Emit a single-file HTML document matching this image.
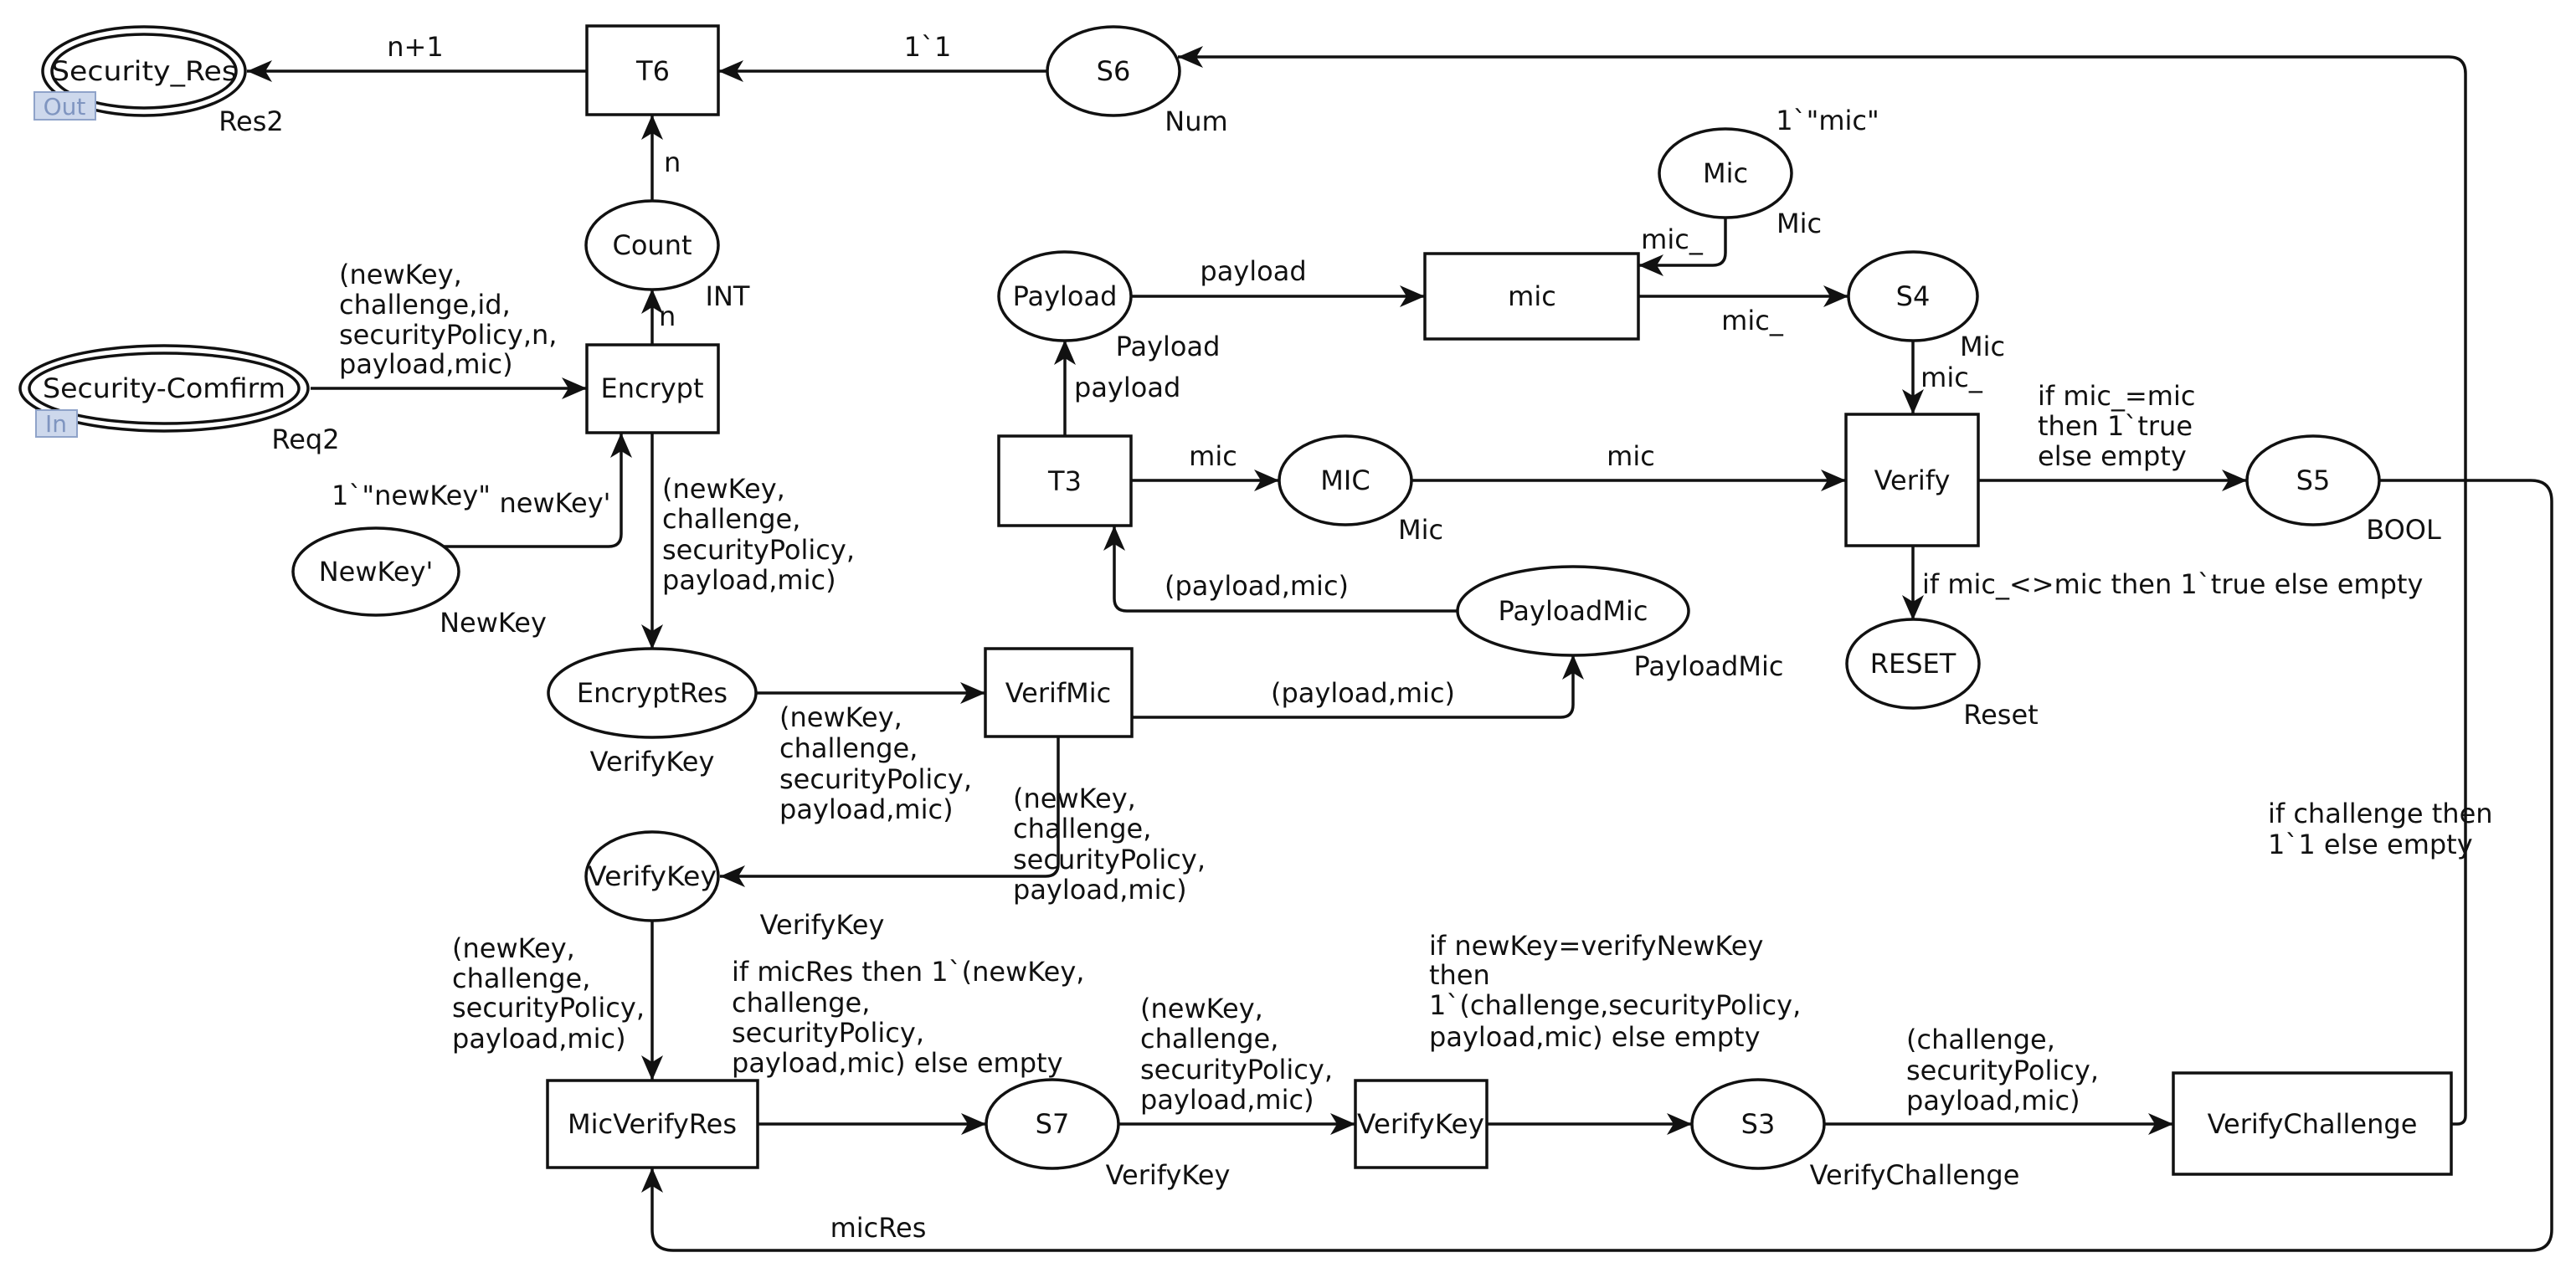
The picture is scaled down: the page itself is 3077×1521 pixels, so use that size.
<!DOCTYPE html>
<html><head><meta charset="utf-8"><style>
html,body{margin:0;padding:0;background:#fff;}
svg{display:block;}
text{font-family:"DejaVu Sans","Liberation Sans",sans-serif;font-size:32px;fill:#111;}
.m{text-anchor:middle;}
</style></head><body>
<svg width="3077" height="1521" viewBox="0 0 3077 1521" xmlns="http://www.w3.org/2000/svg">
<defs>
<marker id="a" markerUnits="userSpaceOnUse" markerWidth="32" markerHeight="26" refX="30" refY="13" orient="auto">
<path d="M0,0 L30,13 L0,26 L8,13 z" fill="#111"/>
</marker>
</defs>
<g fill="none" stroke="#111" stroke-width="3.5">
<ellipse cx="172" cy="85" rx="121" ry="53"/><ellipse cx="172" cy="85" rx="110" ry="44"/>
<ellipse cx="196" cy="464" rx="172" ry="51"/><ellipse cx="196" cy="464" rx="161" ry="42"/>
<ellipse cx="1330" cy="85" rx="79" ry="53"/>
<ellipse cx="779" cy="293" rx="79" ry="53"/>
<ellipse cx="449" cy="683" rx="99" ry="52"/>
<ellipse cx="779" cy="828" rx="124" ry="53"/>
<ellipse cx="779" cy="1047" rx="79" ry="53"/>
<ellipse cx="1257" cy="1343" rx="79" ry="53"/>
<ellipse cx="2100" cy="1343" rx="79" ry="53"/>
<ellipse cx="1272" cy="354" rx="79" ry="53"/>
<ellipse cx="1607" cy="574" rx="79" ry="53"/>
<ellipse cx="1879" cy="730" rx="138" ry="53"/>
<ellipse cx="2061" cy="207" rx="79" ry="53"/>
<ellipse cx="2285" cy="354" rx="77" ry="53"/>
<ellipse cx="2763" cy="574" rx="79" ry="53"/>
<ellipse cx="2285" cy="793" rx="79" ry="53"/>
<rect x="701" y="31" width="157" height="106"/>
<rect x="701" y="412" width="157" height="105"/>
<rect x="1177" y="775" width="175" height="105"/>
<rect x="654" y="1291" width="251" height="104"/>
<rect x="1619" y="1291" width="157" height="104"/>
<rect x="2596" y="1282" width="332" height="121"/>
<rect x="1193" y="521" width="158" height="107"/>
<rect x="1702" y="303" width="255" height="102"/>
<rect x="2205" y="495" width="158" height="157"/>
<g marker-end="url(#a)">
<path d="M701,85 L295,85"/>
<path d="M1251,85 L858,85"/>
<path d="M779,241 L779,137"/>
<path d="M779,412 L779,345"/>
<path d="M371,464 L701,464"/>
<path d="M530,653 L727,653 Q742,653 742,638 L742,517"/>
<path d="M779,517 L779,776"/>
<path d="M903,828 L1177,828"/>
<path d="M1352,857 L1864,857 Q1879,857 1879,842 L1879,782"/>
<path d="M1264,880 L1264,1032 Q1264,1047 1249,1047 L860,1047"/>
<path d="M779,1099 L779,1291"/>
<path d="M905,1343 L1178,1343"/>
<path d="M1336,1343 L1619,1343"/>
<path d="M1776,1343 L2021,1343"/>
<path d="M2179,1343 L2596,1343"/>
<path d="M2928,1343 L2935,1343 Q2945,1343 2945,1333 L2945,88 Q2945,68 2925,68 L1407,68"/>
<path d="M2842,574 L3023,574 Q3048,574 3048,599 L3048,1469 Q3048,1494 3023,1494 L804,1494 Q779,1494 779,1469 L779,1395"/>
<path d="M1351,354 L1702,354"/>
<path d="M1272,521 L1272,406"/>
<path d="M1351,574 L1528,574"/>
<path d="M1686,574 L2205,574"/>
<path d="M1741,730 L1346,730 Q1331,730 1331,715 L1331,628"/>
<path d="M2061,259 L2061,302 Q2061,317 2046,317 L1957,317"/>
<path d="M1957,354 L2208,354"/>
<path d="M2285,406 L2285,495"/>
<path d="M2363,574 L2684,574"/>
<path d="M2285,652 L2285,741"/>
</g>
</g>
<rect x="41" y="110" width="73" height="33" fill="#cdd8ec" stroke="#8fa3c9" stroke-width="2"/>
<text x="77" y="137" class="m" style="fill:#7f95c0;font-size:28px">Out</text>
<rect x="43" y="490" width="49" height="32" fill="#cdd8ec" stroke="#8fa3c9" stroke-width="2"/>
<text x="67" y="516" class="m" style="fill:#7f95c0;font-size:28px">In</text>
<text x="172" y="96" class="m" textLength="222" lengthAdjust="spacingAndGlyphs">Security_Res</text>
<text x="196" y="475" class="m" textLength="290" lengthAdjust="spacingAndGlyphs">Security-Comfirm</text>
<text x="780" y="96" class="m">T6</text>
<text x="1330" y="96" class="m">S6</text>
<text x="779" y="304" class="m">Count</text>
<text x="779" y="475" class="m">Encrypt</text>
<text x="449" y="694" class="m">NewKey'</text>
<text x="779" y="839" class="m">EncryptRes</text>
<text x="1264" y="839" class="m">VerifMic</text>
<text x="779" y="1058" class="m" textLength="154" lengthAdjust="spacingAndGlyphs">VerifyKey</text>
<text x="779" y="1354" class="m">MicVerifyRes</text>
<text x="1257" y="1354" class="m">S7</text>
<text x="1697" y="1354" class="m" textLength="152" lengthAdjust="spacingAndGlyphs">VerifyKey</text>
<text x="2100" y="1354" class="m">S3</text>
<text x="2762" y="1354" class="m">VerifyChallenge</text>
<text x="1272" y="365" class="m">Payload</text>
<text x="1272" y="586" class="m">T3</text>
<text x="1607" y="585" class="m">MIC</text>
<text x="1879" y="741" class="m">PayloadMic</text>
<text x="1830" y="365" class="m">mic</text>
<text x="2061" y="218" class="m">Mic</text>
<text x="2285" y="365" class="m">S4</text>
<text x="2284" y="585" class="m">Verify</text>
<text x="2763" y="585" class="m">S5</text>
<text x="2285" y="804" class="m">RESET</text>
<text x="300" y="156" class="m">Res2</text>
<text x="1429" y="156" class="m">Num</text>
<text x="869" y="365" class="m">INT</text>
<text x="365" y="536" class="m">Req2</text>
<text x="589" y="755" class="m">NewKey</text>
<text x="779" y="921" class="m">VerifyKey</text>
<text x="982" y="1116" class="m">VerifyKey</text>
<text x="1395" y="1415" class="m">VerifyKey</text>
<text x="2287" y="1415" class="m">VerifyChallenge</text>
<text x="1395" y="425" class="m">Payload</text>
<text x="1697" y="644" class="m">Mic</text>
<text x="2041" y="807" class="m">PayloadMic</text>
<text x="2149" y="278" class="m">Mic</text>
<text x="2183" y="155" class="m">1`"mic"</text>
<text x="2368" y="425" class="m">Mic</text>
<text x="2871" y="644" class="m">BOOL</text>
<text x="2390" y="865" class="m">Reset</text>
<text x="496" y="67" class="m">n+1</text>
<text x="1108" y="67" class="m">1`1</text>
<text x="793" y="205">n</text>
<text x="787" y="389">n</text>
<text x="405" y="339">(newKey,</text>
<text x="405" y="375">challenge,id,</text>
<text x="405" y="411">securityPolicy,n,</text>
<text x="405" y="446">payload,mic)</text>
<text x="491" y="603" class="m">1`"newKey"</text>
<text x="663" y="612" class="m">newKey'</text>
<text x="791" y="595">(newKey,</text>
<text x="791" y="631">challenge,</text>
<text x="791" y="668">securityPolicy,</text>
<text x="791" y="704">payload,mic)</text>
<text x="931" y="868">(newKey,</text>
<text x="931" y="905">challenge,</text>
<text x="931" y="942">securityPolicy,</text>
<text x="931" y="978">payload,mic)</text>
<text x="1628" y="839" class="m">(payload,mic)</text>
<text x="1210" y="965">(newKey,</text>
<text x="1210" y="1001">challenge,</text>
<text x="1210" y="1038">securityPolicy,</text>
<text x="1210" y="1074">payload,mic)</text>
<text x="540" y="1144">(newKey,</text>
<text x="540" y="1180">challenge,</text>
<text x="540" y="1215">securityPolicy,</text>
<text x="540" y="1252">payload,mic)</text>
<text x="874" y="1172">if micRes then 1`(newKey,</text>
<text x="874" y="1209">challenge,</text>
<text x="874" y="1245">securityPolicy,</text>
<text x="874" y="1281">payload,mic) else empty</text>
<text x="1362" y="1216">(newKey,</text>
<text x="1362" y="1252">challenge,</text>
<text x="1362" y="1289">securityPolicy,</text>
<text x="1362" y="1325">payload,mic)</text>
<text x="1707" y="1141">if newKey=verifyNewKey</text>
<text x="1707" y="1176">then</text>
<text x="1707" y="1212">1`(challenge,securityPolicy,</text>
<text x="1707" y="1250">payload,mic) else empty</text>
<text x="2277" y="1253">(challenge,</text>
<text x="2277" y="1290">securityPolicy,</text>
<text x="2277" y="1326">payload,mic)</text>
<text x="1049" y="1478" class="m">micRes</text>
<text x="2709" y="983">if challenge then</text>
<text x="2709" y="1020">1`1 else empty</text>
<text x="1497" y="335" class="m">payload</text>
<text x="1283" y="474">payload</text>
<text x="1449" y="556" class="m">mic</text>
<text x="1948" y="556" class="m">mic</text>
<text x="1501" y="711" class="m">(payload,mic)</text>
<text x="1997" y="297" class="m">mic_</text>
<text x="2093" y="394" class="m">mic_</text>
<text x="2331" y="462" class="m">mic_</text>
<text x="2434" y="484">if mic_=mic</text>
<text x="2434" y="520">then 1`true</text>
<text x="2434" y="556">else empty</text>
<text x="2296" y="709">if mic_&lt;&gt;mic then 1`true else empty</text>
</svg>
</body></html>
